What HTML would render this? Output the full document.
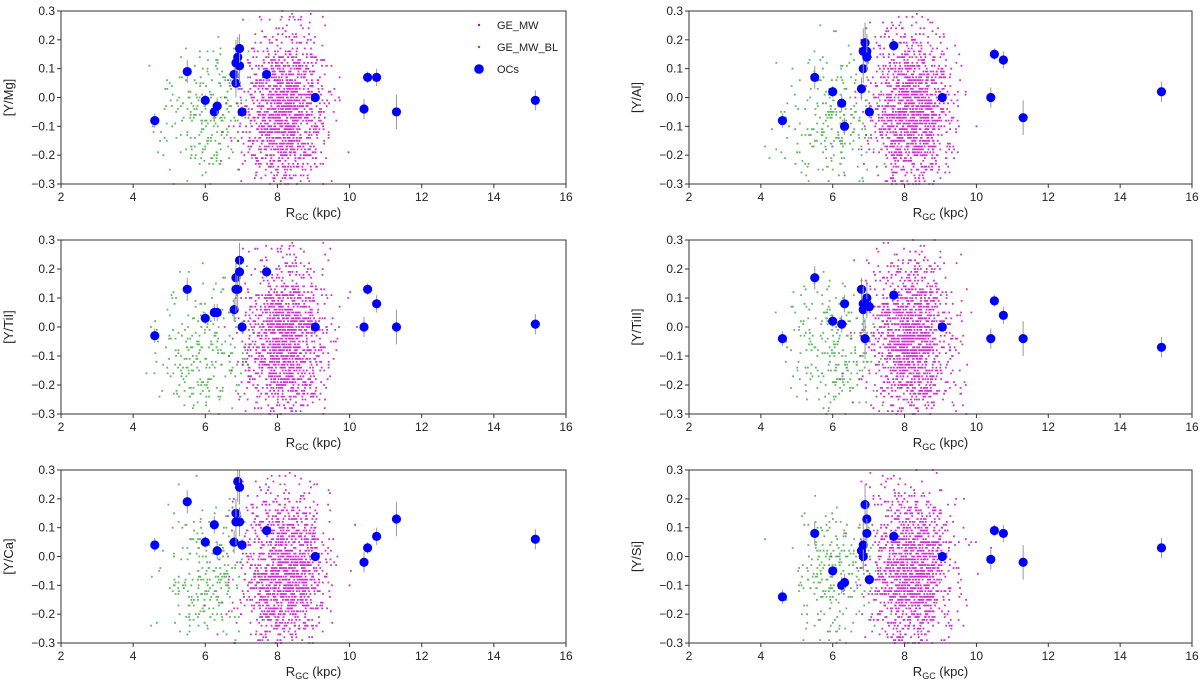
<!DOCTYPE html>
<html><head><meta charset="utf-8">
<style>
html,body{margin:0;padding:0;background:#fff;width:1200px;height:688px;overflow:hidden;}
svg{display:block;font-family:"Liberation Sans","DejaVu Sans",sans-serif;}
</style></head>
<body>
<svg id="fig" width="1200" height="688" viewBox="0 0 1200 688" xmlns="http://www.w3.org/2000/svg"></svg>
<script>
// ---- data ----
const rgc = [4.6,5.5,6.0,6.25,6.33,6.8,6.85,6.85,6.9,6.95,6.95,7.02,7.7,9.05,10.4,10.5,10.75,11.3,15.15];
const yMg  = [-0.08,0.09,-0.01,-0.05,-0.03,0.08,0.05,0.12,0.14,0.11,0.17,-0.05,0.08,0.00,-0.04,0.07,0.07,-0.05,-0.01];
const yAl  = [-0.08,0.07,0.02,-0.02,-0.10,0.03,0.10,0.16,0.19,0.16,0.14,-0.05,0.18,0.00,0.00,0.15,0.13,-0.07,0.02];
const yTiI = [-0.03,0.13,0.03,0.05,0.05,0.06,0.17,0.13,0.13,0.23,0.19,0.00,0.19,0.00,0.00,0.13,0.08,0.00,0.01];
const yTiII= [-0.04,0.17,0.02,0.01,0.08,0.13,0.08,0.06,-0.04,0.10,0.08,0.07,0.11,0.00,-0.04,0.09,0.04,-0.04,-0.07];
const yCa  = [0.04,0.19,0.05,0.11,0.02,0.05,0.15,0.12,0.26,0.24,0.12,0.04,0.09,0.00,-0.02,0.03,0.07,0.13,0.06];
const ySi  = [-0.14,0.08,-0.05,-0.10,-0.09,0.02,0.00,0.04,0.18,0.13,0.08,-0.08,0.07,0.00,-0.01,0.09,0.08,-0.02,0.03];
const errs = [0.025,0.04,0.02,0.03,0.03,0.04,0.05,0.08,0.07,0.06,0.05,0.02,0.02,0.01,0.035,0.02,0.03,0.06,0.035];
const xTicks = [2,4,6,8,10,12,14,16];
const yTicks = [-0.3,-0.2,-0.1,0.0,0.1,0.2,0.3];
const yLabels = ["[Y/Mg]","[Y/Al]","[Y/TiI]","[Y/TiII]","[Y/Ca]","[Y/Si]"];
// field-star population parameters: [meanR, sdR, meanY, sdY, count]
const mwPop = [8.2,0.55,-0.05,0.14,1400];
const blPop = [6.0,0.6,-0.08,0.12,260];

const NS="http://www.w3.org/2000/svg";
const svg=document.getElementById('fig');
function mk(tag,attrs,parent){const e=document.createElementNS(NS,tag);for(const k in attrs)e.setAttribute(k,attrs[k]);(parent||svg).appendChild(e);return e;}
let seed=12345;
function rnd(){seed=(seed*1103515245+12345)%2147483648;return seed/2147483648;}
function gauss(){let u=rnd()||1e-9,v=rnd();return Math.sqrt(-2*Math.log(u))*Math.cos(2*Math.PI*v);}

const panels=[
 {x0:61,x1:566,y0:11,y1:184,yv:yMg},
 {x0:689,x1:1192,y0:11,y1:184,yv:yAl},
 {x0:61,x1:566,y0:240,y1:414,yv:yTiI},
 {x0:689,x1:1192,y0:240,y1:414,yv:yTiII},
 {x0:61,x1:566,y0:470,y1:643,yv:yCa},
 {x0:689,x1:1192,y0:470,y1:643,yv:ySi}
];
panels.forEach((p,i)=>{
  const g=mk('g',{});
  
  
  const sx=v=>p.x0+(v-2)/14*(p.x1-p.x0);
  const sy=v=>p.y1-(v+0.3)/0.6*(p.y1-p.y0);
  const pts=mk('g',{},g);
  
  
  seed=1000+i*77;
  [[mwPop,'#c000c0',0.8],[blPop,'#1a9a1a',0.7]].forEach(([pop,col,op])=>{
    let d='';
    for(let k=0;k<pop[4];k++){
      const r=pop[0]+pop[1]*gauss(); const y=Math.round((pop[2]+pop[3]*gauss())*100)/100;
      if(r<2.05||r>15.95||y<-0.3||y>0.3) continue;
      d+=`M${(sx(r)-0.9).toFixed(1)} ${sy(y).toFixed(1)}h1.8`;
    }
    const pa=mk('path',{d:d,stroke:col,'stroke-width':1.8,opacity:op},pts);
    
    
  });
  // OCs
  rgc.forEach((r,k)=>{
    const lo=Math.max(-0.3,p.yv[k]-errs[k]), hi=Math.min(0.3,p.yv[k]+errs[k]);
    const eb=mk('line',{x1:sx(r),x2:sx(r),y1:sy(lo),y2:sy(hi),stroke:'#999','stroke-width':1},pts);
    
    
    const c=mk('circle',{cx:sx(r),cy:sy(p.yv[k]),r:4.6,fill:'#0000ff'},pts);
    
    
  });
  // frame
  const fr=mk('rect',{x:p.x0,y:p.y0,width:p.x1-p.x0,height:p.y1-p.y0,fill:'none',stroke:'#333','stroke-width':1},g);
  
  
  xTicks.forEach(t=>{
    mk('line',{x1:sx(t),x2:sx(t),y1:p.y1,y2:p.y1+4,stroke:'#333'},g);
    const tx=mk('text',{x:sx(t),y:p.y1+17,'text-anchor':'middle','font-size':12,fill:'#222'},g);
    tx.textContent=t;
    
    
  });
  yTicks.forEach(t=>{
    mk('line',{x1:p.x0-4,x2:p.x0,y1:sy(t),y2:sy(t),stroke:'#333'},g);
    const tx=mk('text',{x:p.x0-6,y:sy(t)+4,'text-anchor':'end','font-size':12,fill:'#222'},g);
    tx.textContent=(t<0?'\u2212':'')+Math.abs(t).toFixed(1);
    
    
  });
  const xl=mk('text',{x:(p.x0+p.x1)/2,y:p.y1+33,'text-anchor':'middle','font-size':13,fill:'#222'},g);
  xl.innerHTML='R<tspan font-size="9" dy="3">GC</tspan><tspan dy="-3"> (kpc)</tspan>';
  
  
  const yx=p.x0-48, ym=(p.y0+p.y1)/2;
  const yl=mk('text',{x:yx,y:ym,'text-anchor':'middle','font-size':13,fill:'#222',transform:`rotate(-90 ${yx} ${ym})`},g);
  yl.textContent=yLabels[i];
  
  
});
// legend
const lg=mk('g',{});


[['GE_MW','#c000c0',1.2,25],['GE_MW_BL','#1a9a1a',1.2,47],['OCs','#0000ff',4.8,69]].forEach(([t,c,r,y])=>{
  mk('circle',{cx:479,cy:y,r:r,fill:c},lg);
  const tx=mk('text',{x:497,y:y+4,'font-size':11,fill:'#222'},lg);
  tx.textContent=t;
  
  
});
</script>
</body></html>
